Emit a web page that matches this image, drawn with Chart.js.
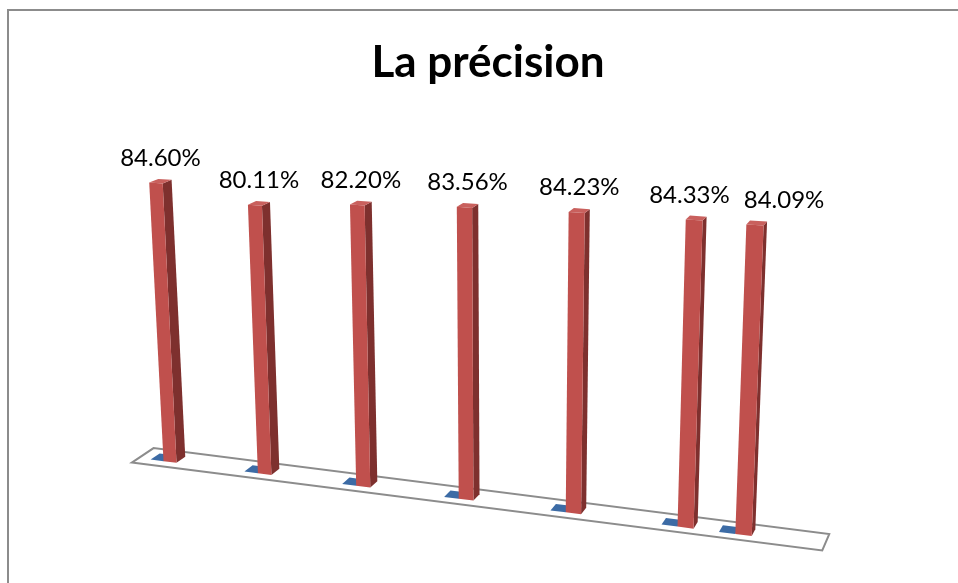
<!DOCTYPE html>
<html>
<head>
<meta charset="utf-8">
<script src="https://cdn.jsdelivr.net/npm/chart.js@4.4.1/dist/chart.umd.min.js"></script>
<style>
html,body{margin:0;padding:0;background:#fff;overflow:hidden;width:958px;height:583px;}
#box{position:absolute;left:7px;top:9px;width:962px;height:590px;border:2px solid #8c8c8c;box-sizing:border-box;background:#fff;}
canvas{display:block;}
</style>
</head>
<body>
<div id="box"><canvas id="c"></canvas></div>
<script>
// ---- data ----
const categories = ['1', '2', '3', '4', '5', '6', '7'];
const categoryX = [1, 2, 3, 4, 5, 6, 6.5];
const precisionValues = [84.60, 80.11, 82.20, 83.56, 84.23, 84.33, 84.09];
const series1Values = [0, 0, 0, 0, 0, 0, 0];
const titleText = 'La précision';

// ---- 3D projection settings (screen quad for the bars' front plane) ----
const QUAD = [[161, 451], [734.5, 524], [746, 213], [147, 172.8]];
const CAL = { u0: 1, u1: 6.5, v0: 0, v1: 84.35 };
const VP = [1141, -227];
const BAR_DEPTH = 0.009, FLOOR_FRONT = -0.0068, FLOOR_BACK = 0.0147;
const HALF = 0.07;

function quadMap(q) {
  const [x0, y0] = q[0], [x1, y1] = q[1], [x2, y2] = q[2], [x3, y3] = q[3];
  const dx1 = x1 - x2, dx2 = x3 - x2, dx3 = x0 - x1 + x2 - x3;
  const dy1 = y1 - y2, dy2 = y3 - y2, dy3 = y0 - y1 + y2 - y3;
  const den = dx1 * dy2 - dx2 * dy1;
  const g = (dx3 * dy2 - dx2 * dy3) / den, h = (dx1 * dy3 - dx3 * dy1) / den;
  const a = x1 - x0 + g * x1, b = x3 - x0 + h * x3, c = x0;
  const d = y1 - y0 + g * y1, e = y3 - y0 + h * y3, f = y0;
  return (s, t) => { const w = g * s + h * t + 1; return [(a * s + b * t + c) / w, (d * s + e * t + f) / w]; };
}

const perspective = {
  id: 'perspective3d',
  beforeDatasetsDraw(chart) {
    const ctx = chart.ctx, xs = chart.scales.x, ys = chart.scales.y;
    const map = quadMap(QUAD);
    const ax = xs.getPixelForValue(CAL.u0), bx = xs.getPixelForValue(CAL.u1);
    const ay = ys.getPixelForValue(CAL.v0), by = ys.getPixelForValue(CAL.v1);
    const P = (u, v) => map((xs.getPixelForValue(u) - ax) / (bx - ax), (ys.getPixelForValue(v) - ay) / (by - ay));
    const D = (p, k) => [p[0] + k * (VP[0] - p[0]), p[1] + k * (VP[1] - p[1])];
    const poly = (pts, fill, stroke, lw) => {
      ctx.beginPath();
      ctx.moveTo(pts[0][0], pts[0][1]);
      for (let i = 1; i < pts.length; i++) ctx.lineTo(pts[i][0], pts[i][1]);
      ctx.closePath();
      if (fill) { ctx.fillStyle = fill; ctx.fill(); }
      if (stroke) { ctx.strokeStyle = stroke; ctx.lineWidth = lw; ctx.lineJoin = 'miter'; ctx.stroke(); }
    };
    ctx.save();
    // floor
    const fl = P(xs.min, 0), fr = P(xs.max, 0);
    poly([D(fl, FLOOR_FRONT), D(fr, FLOOR_FRONT), D(fr, FLOOR_BACK), D(fl, FLOOR_BACK)], '#ffffff', '#8c8c8c', 2);

    const offsets = [-2 * HALF, 0];
    const tops = [];
    chart.data.datasets.forEach((ds, di) => {
      const col = ds.faceColors;
      ds.data.forEach((pt) => {
        const u = pt.x + offsets[di], v = pt.y;
        const A = P(u - HALF, 0), B = P(u + HALF, 0), C = P(u + HALF, v), Dd = P(u - HALF, v);
        const B2 = D(B, BAR_DEPTH), C2 = D(C, BAR_DEPTH), D2 = D(Dd, BAR_DEPTH);
        if (v > 0) {
          poly([B, C, C2, B2], col.side);
          poly([Dd, C, C2, D2], col.top);
          poly([A, B, C, Dd], col.front);
          tops.push({ x: (Dd[0] + C[0] + C2[0] + D2[0]) / 4, y: (Dd[1] + C[1]) / 2, text: pt.label });
        } else {
          poly([Dd, C, C2, D2], col.top);
        }
      });
    });

    // data labels with simple overlap avoidance
    ctx.font = '24px Lato';
    ctx.fillStyle = '#000';
    ctx.textAlign = 'center';
    ctx.textBaseline = 'alphabetic';
    const labs = tops.map(t => ({ x: t.x, y: t.y - 17, w: ctx.measureText(t.text).width, text: t.text }));
    for (let i = 1; i < labs.length; i++) {
      const prev = labs[i - 1], cur = labs[i];
      const need = (prev.x + prev.w / 2 + 14) - (cur.x - cur.w / 2);
      if (need > 0) { prev.x -= need * 0.2; cur.x += need * 0.8; }
    }
    labs.forEach(l => ctx.fillText(l.text, l.x, l.y));
    ctx.restore();
    return false;
  }
};

const chart = new Chart(document.getElementById('c'), {
  type: 'bar',
  data: {
    datasets: [
      {
        label: 'Série 1',
        data: categoryX.map((x, i) => ({ x: x, y: series1Values[i], label: categories[i] })),
        backgroundColor: '#4F81BD',
        faceColors: { front: '#4F81BD', side: '#2F5585', top: '#3C6BA5' }
      },
      {
        label: 'Série 2',
        data: categoryX.map((x, i) => ({ x: x, y: precisionValues[i], label: precisionValues[i].toFixed(2) + '%' })),
        backgroundColor: '#C0504D',
        faceColors: { front: '#C0504D', side: '#7E302E', top: '#C9605D' }
      }
    ]
  },
  options: {
    responsive: true,
    maintainAspectRatio: false,
    animation: false,
    layout: { padding: { left: 10, right: 10, top: 0, bottom: 10 } },
    plugins: {
      legend: { display: false },
      tooltip: { enabled: false },
      title: {
        display: true,
        text: titleText,
        color: '#000',
        font: { family: 'Lato', size: 44, weight: 'bold' },
        padding: { top: 25, bottom: 20 }
      }
    },
    scales: {
      x: { type: 'linear', min: 0.66, max: 7.18, display: false },
      y: { min: 0, max: 100, display: false }
    }
  },
  plugins: [perspective]
});
</script>
</body>
</html>
